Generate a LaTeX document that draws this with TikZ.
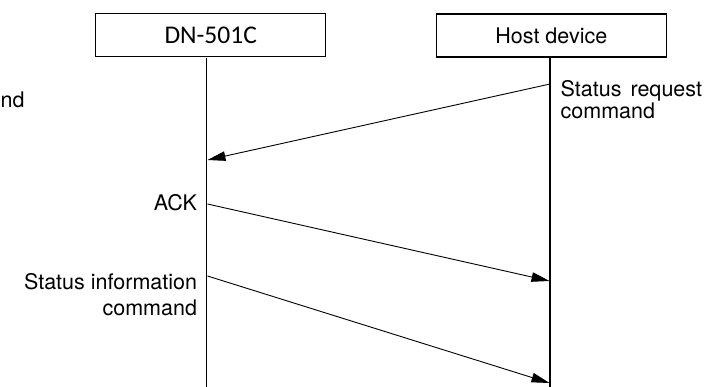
\documentclass[tikz,border=0pt]{standalone}
\usepackage{fontspec}
\setmainfont{TeX Gyre Heros}
\newfontfamily\boxfont{Carlito}
\usetikzlibrary{arrows.meta}
\begin{document}
\begin{tikzpicture}[x=1pt,y=-1pt,
  every node/.style={inner sep=0pt,outer sep=0pt,font=\fontsize{21.5}{25}\selectfont},
  headbox/.style={draw,line width=1.1pt,minimum width=230pt,minimum height=43pt},
  life/.style={line width=1.1pt},
  msg/.style={line width=0.9pt,-{Triangle[length=18pt,width=9.5pt]}},
  lbl/.style={}]
\useasboundingbox (0,0) rectangle (708,387);
% header boxes
\node[headbox,font=\boxfont\fontsize{25.5}{28}\selectfont] (dn) at (210.7,35) {DN-501C};
\node[headbox] (host) at (551.3,35.5) {Host device};
% lifelines
\coordinate (dntop) at (206.7,58);
\coordinate (dnbot) at (206.7,387);
\coordinate (hosttop) at (550,58);
\coordinate (hostbot) at (550,387);
\draw[life] (dntop) -- (dnbot);
\draw[life] (hosttop) -- (hostbot);
% message points
\coordinate (h1) at (550,84);
\coordinate (d1) at (207.5,160);
\coordinate (d2) at (207.5,204);
\coordinate (h2) at (549.5,281);
\coordinate (d3) at (207.5,276);
\coordinate (h3) at (549.5,383);
\draw[msg] (h1) -- (d1);
\draw[msg] (d2) -- (h2);
\draw[msg] (d3) -- (h3);
% labels
\node[lbl,anchor=base west] (sr1) at (560.7,96.5) {Status\hspace{9pt}request};
\node[lbl,anchor=base west] (sr2) at (560.7,119) {command};
\node[lbl,anchor=base east] (ack) at (197,211) {ACK};
\node[lbl,anchor=base east] (si1) at (197,289) {Status information};
\node[lbl,anchor=base east] (si2) at (197,315) {command};
\node[lbl,anchor=base west] (nd) at (0.6,107.7) {nd};
\end{tikzpicture}
\end{document}
